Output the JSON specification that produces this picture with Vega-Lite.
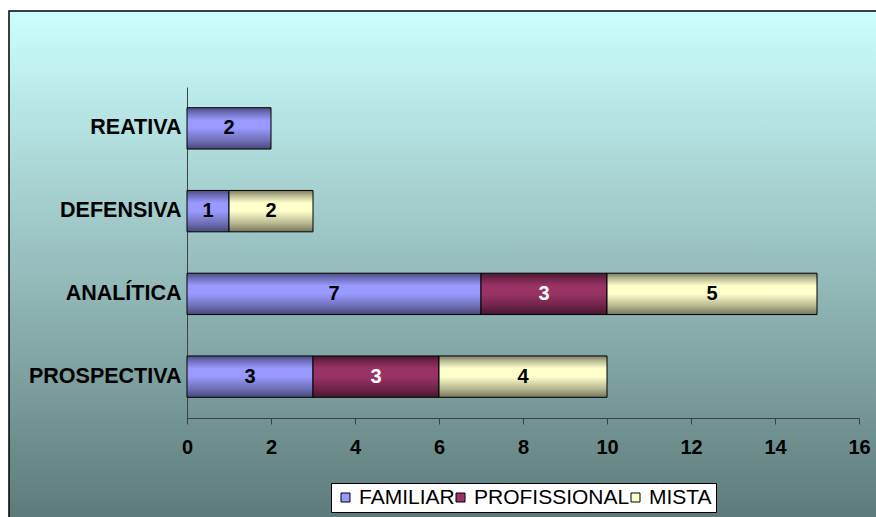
{
  "$schema": "https://vega.github.io/schema/vega-lite/v6.json",
  "width": 880,
  "height": 520,
  "autosize": {"type": "none"},
  "padding": {"left": 9, "top": 11, "right": 0, "bottom": 0},
  "background": "white",
  "config": {
    "font": "Liberation Sans",
    "view": {
      "fill": {"gradient": "linear", "x1": 0, "y1": 0, "x2": 0, "y2": 1,
        "stops": [{"offset": 0, "color": "#ccffff"}, {"offset": 0.5, "color": "#96bcbc"}, {"offset": 1, "color": "#5a7777"}]},
      "stroke": "black",
      "strokeWidth": 1.5
    }
  },
  "data": {
    "values": [
      {"estrategia": "REATIVA", "tipo": "FAMILIAR", "ordem": 1, "n": 2},
      {"estrategia": "DEFENSIVA", "tipo": "FAMILIAR", "ordem": 1, "n": 1},
      {"estrategia": "DEFENSIVA", "tipo": "MISTA", "ordem": 3, "n": 2},
      {"estrategia": "ANALÍTICA", "tipo": "FAMILIAR", "ordem": 1, "n": 7},
      {"estrategia": "ANALÍTICA", "tipo": "PROFISSIONAL", "ordem": 2, "n": 3},
      {"estrategia": "ANALÍTICA", "tipo": "MISTA", "ordem": 3, "n": 5},
      {"estrategia": "PROSPECTIVA", "tipo": "FAMILIAR", "ordem": 1, "n": 3},
      {"estrategia": "PROSPECTIVA", "tipo": "PROFISSIONAL", "ordem": 2, "n": 3},
      {"estrategia": "PROSPECTIVA", "tipo": "MISTA", "ordem": 3, "n": 4}
    ]
  },
  "encoding": {
    "y": {
      "field": "estrategia", "type": "nominal",
      "sort": ["REATIVA", "DEFENSIVA", "ANALÍTICA", "PROSPECTIVA"],
      "scale": {"range": [76, 407], "paddingInner": 0.5, "paddingOuter": 0.25},
      "axis": {
        "title": null, "ticks": false, "labelFont": "Liberation Sans", "labelFontSize": 21.5,
        "labelFontWeight": "bold", "labelColor": "black", "labelPadding": 6,
        "domainColor": "#404040", "offset": -178, "labelLimit": 400
      }
    }
  },
  "layer": [
    {
      "mark": {"type": "bar", "opacity": 0},
      "encoding": {
        "x": {
          "field": "n", "type": "quantitative", "stack": "zero",
          "scale": {"domain": [0, 16], "nice": false, "range": [178, 850]},
          "axis": {
            "title": null, "values": [0, 2, 4, 6, 8, 10, 12, 14, 16], "grid": false,
            "labelFont": "Liberation Sans", "labelFontSize": 20, "labelFontWeight": "bold",
            "labelColor": "black", "tickColor": "#404040", "tickSize": 6,
            "domainColor": "#404040", "offset": -113, "labelPadding": 13, "labelFlush": false
          }
        },
        "order": {"field": "ordem", "type": "quantitative"},
        "color": {
          "field": "tipo", "type": "nominal",
          "scale": {"domain": ["FAMILIAR", "PROFISSIONAL", "MISTA"], "range": ["#9999ff", "#993366", "#ffffcc"]},
          "legend": {
            "orient": "none", "legendX": 322, "legendY": 472, "direction": "horizontal",
            "columns": 3, "title": null, "symbolType": "square", "symbolSize": 81,
            "symbolStrokeColor": "black", "symbolStrokeWidth": 1, "symbolFillOpacity": 1,
            "symbolOpacity": 1, "gridAlign": "none",
            "labelFont": "Liberation Sans", "labelFontSize": 21, "labelColor": "black",
            "labelOffset": 3, "columnPadding": -5, "fillColor": "white", "strokeColor": "black",
            "padding": 4
          }
        }
      }
    },
    {
      "transform": [
        {"stack": "n", "groupby": ["estrategia"], "sort": [{"field": "ordem", "order": "ascending"}], "as": ["x0", "x1"]},
        {"filter": "datum.tipo === 'FAMILIAR'"}
      ],
      "mark": {"type": "bar", "stroke": "black", "strokeWidth": 1,
        "fill": {"gradient": "linear", "x1": 0, "y1": 0, "x2": 0, "y2": 1,
          "stops": [{"offset": 0, "color": "#4c4c85"}, {"offset": 0.12, "color": "#6e6eb8"}, {"offset": 0.3, "color": "#9999ff"}, {"offset": 0.5, "color": "#9999ff"}, {"offset": 0.8, "color": "#6e6eb5"}, {"offset": 1, "color": "#47477a"}]}},
      "encoding": {
        "x": {"field": "x0", "type": "quantitative"},
        "x2": {"field": "x1"}
      }
    },
    {
      "transform": [
        {"stack": "n", "groupby": ["estrategia"], "sort": [{"field": "ordem", "order": "ascending"}], "as": ["x0", "x1"]},
        {"filter": "datum.tipo === 'PROFISSIONAL'"}
      ],
      "mark": {"type": "bar", "stroke": "black", "strokeWidth": 1,
        "fill": {"gradient": "linear", "x1": 0, "y1": 0, "x2": 0, "y2": 1,
          "stops": [{"offset": 0, "color": "#4a1830"}, {"offset": 0.12, "color": "#6e2449"}, {"offset": 0.3, "color": "#993366"}, {"offset": 0.5, "color": "#993366"}, {"offset": 0.8, "color": "#6e2449"}, {"offset": 1, "color": "#45162d"}]}},
      "encoding": {
        "x": {"field": "x0", "type": "quantitative"},
        "x2": {"field": "x1"}
      }
    },
    {
      "transform": [
        {"stack": "n", "groupby": ["estrategia"], "sort": [{"field": "ordem", "order": "ascending"}], "as": ["x0", "x1"]},
        {"filter": "datum.tipo === 'MISTA'"}
      ],
      "mark": {"type": "bar", "stroke": "black", "strokeWidth": 1,
        "fill": {"gradient": "linear", "x1": 0, "y1": 0, "x2": 0, "y2": 1,
          "stops": [{"offset": 0, "color": "#7a7a62"}, {"offset": 0.12, "color": "#b8b893"}, {"offset": 0.3, "color": "#ffffcc"}, {"offset": 0.5, "color": "#ffffcc"}, {"offset": 0.8, "color": "#b5b590"}, {"offset": 1, "color": "#75755e"}]}},
      "encoding": {
        "x": {"field": "x0", "type": "quantitative"},
        "x2": {"field": "x1"}
      }
    },
    {
      "transform": [
        {"stack": "n", "groupby": ["estrategia"], "sort": [{"field": "ordem", "order": "ascending"}], "as": ["x0", "x1"]},
        {"fold": ["x0", "x1"], "as": ["borda", "pos"]}
      ],
      "mark": {"type": "text", "font": "Liberation Sans", "fontSize": 20, "fontWeight": "bold", "baseline": "middle", "align": "center"},
      "encoding": {
        "x": {"aggregate": "mean", "field": "pos", "type": "quantitative"},
        "detail": {"field": "tipo"},
        "text": {"field": "n", "type": "quantitative"},
        "color": {"condition": {"test": "datum.tipo === 'PROFISSIONAL'", "value": "white"}, "value": "black"}
      }
    }
  ]
}
